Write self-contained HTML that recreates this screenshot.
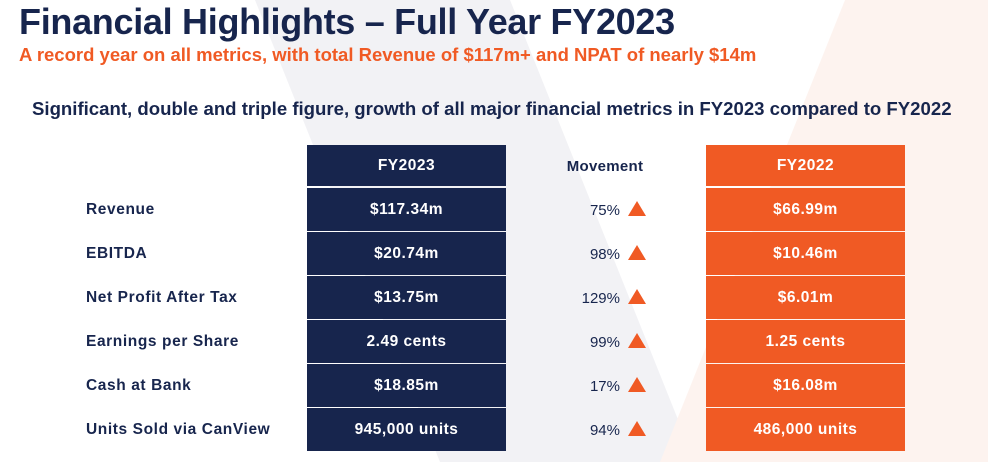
<!DOCTYPE html>
<html><head><meta charset="utf-8"><style>
body{margin:0;width:988px;height:462px;overflow:hidden;background:#fff;font-family:"Liberation Sans",sans-serif;position:relative}
.abs{position:absolute}
h1{position:absolute;left:19px;top:1px;margin:0;font-size:36px;font-weight:bold;color:#17254d;letter-spacing:-0.3px;white-space:nowrap}
.sub{left:19px;top:44px;font-size:18.5px;font-weight:bold;color:#f05a24;white-space:nowrap}
.lead{left:32px;top:98px;font-size:18.6px;font-weight:bold;color:#17254d;white-space:nowrap}
.cell{position:absolute;width:199px;height:43px;color:#fff;font-weight:bold;font-size:15.5px;letter-spacing:0.5px;display:flex;align-items:center;justify-content:center;padding-top:1px;box-sizing:border-box}
.nav{background:#17254d;left:307px}
.org{background:#f05a24;left:706px}
.lab{position:absolute;left:86px;font-size:15.5px;font-weight:bold;letter-spacing:0.6px;color:#17254d;height:43px;display:flex;align-items:center;padding-top:1px;box-sizing:border-box}
.mv{position:absolute;left:540px;width:80px;text-align:right;font-size:15px;color:#17254d;height:43px;display:flex;align-items:center;justify-content:flex-end;padding-top:1px;box-sizing:border-box}
.tri{position:absolute;left:628px;width:0;height:0;border-left:9px solid transparent;border-right:9px solid transparent;border-bottom:15px solid #f05a24}
</style></head><body>
<svg class="abs" style="left:0;top:0" width="988" height="462">
<polygon points="255,0 510,0 695,462 440,462" fill="#f2f2f5"/>
<polygon points="845,0 988,0 988,462 660,462" fill="#fdf3ef"/>
</svg>
<h1>Financial Highlights – Full Year FY2023</h1>
<div class="abs sub">A record year on all metrics, with total Revenue of $117m+ and NPAT of nearly $14m</div>
<div class="abs lead">Significant, double and triple figure, growth of all major financial metrics in FY2023 compared to FY2022</div>
<div class="cell nav" style="top:145px;height:41px">FY2023</div>
<div class="mv" style="top:144px;left:560px;width:90px;justify-content:center;font-weight:bold;letter-spacing:0.3px">Movement</div>
<div class="cell org" style="top:145px;height:41px">FY2022</div>
<div id="rows"></div>
<script>
const labels=["Revenue","EBITDA","Net Profit After Tax","Earnings per Share","Cash at Bank","Units Sold via CanView"];
const fy2023=["$117.34m","$20.74m","$13.75m","2.49 cents","$18.85m","945,000 units"];
const movement=["75%","98%","129%","99%","17%","94%"];
const fy2022=["$66.99m","$10.46m","$6.01m","1.25 cents","$16.08m","486,000 units"];
const root=document.getElementById('rows');
labels.forEach((l,i)=>{
  const top=188+i*44;
  const a=document.createElement('div');a.className='lab';a.style.top=top+'px';a.textContent=l;
  
  
  const b=document.createElement('div');b.className='cell nav';b.style.top=top+'px';b.textContent=fy2023[i];
  
  
  const c=document.createElement('div');c.className='mv';c.style.top=top+'px';c.textContent=movement[i];
  
  
  const t=document.createElement('div');t.className='tri';t.style.top=(top+13)+'px';
  
  
  const d=document.createElement('div');d.className='cell org';d.style.top=top+'px';d.textContent=fy2022[i];
  
  
  [a,b,c,t,d].forEach(e=>root.appendChild(e));
});
</script>
</body></html>
